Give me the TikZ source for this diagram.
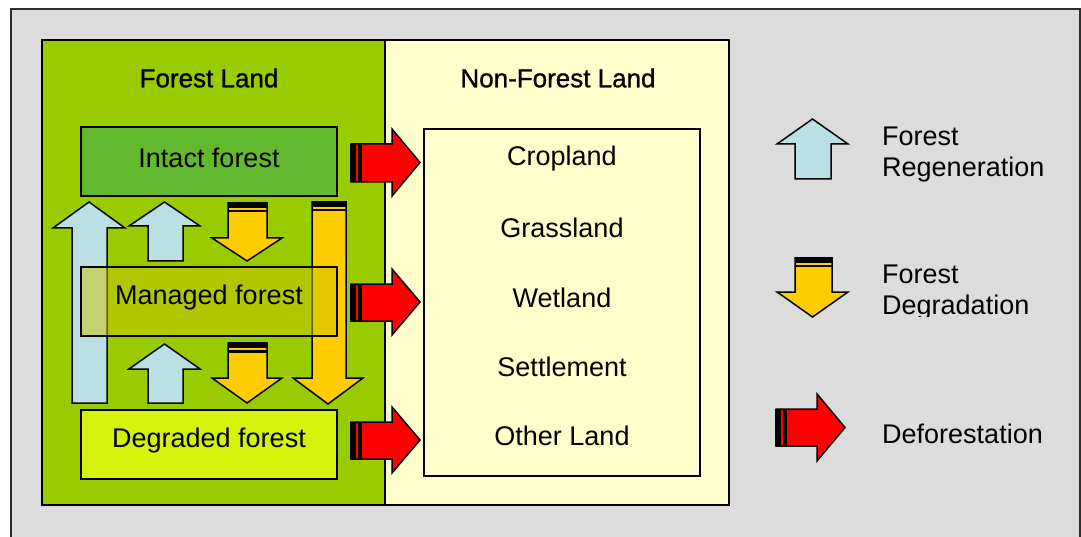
\documentclass[tikz,border=0pt]{standalone}
\usepackage{fontspec}
\setmainfont{Liberation Sans}
\newfontfamily\medfont[FakeBold=1]{Liberation Sans}
\definecolor{bggray}{RGB}{220,220,220}
\definecolor{framegray}{RGB}{45,45,45}
\definecolor{forestgreen}{RGB}{153,204,0}
\definecolor{nonforest}{RGB}{255,255,204}
\definecolor{intact}{RGB}{99,185,46}
\definecolor{managed}{RGB}{205,196,0}
\definecolor{degraded}{RGB}{212,242,12}
\definecolor{regenblue}{RGB}{187,224,228}
\definecolor{degyellow}{RGB}{255,204,0}
\definecolor{defred}{RGB}{255,0,0}
\tikzset{
  region/.style={draw=black, line width=1.6pt},
  landbox/.style={draw=black, line width=1.6pt, minimum width=256pt, minimum height=69pt, inner sep=0pt},
  lbl/.style={font=\fontsize{27}{31}\selectfont, inner sep=0pt},
  title/.style={font=\medfont\fontsize{26}{30}\selectfont, inner sep=0pt},
  regen/.style={draw=black, line width=1.5pt, fill=regenblue, line join=miter},
  degr/.style={draw=black, line width=1.5pt, fill=degyellow, line join=miter},
  defo/.style={draw=black, line width=1.5pt, fill=defred, line join=miter},
}
% up arrow: shaft x1 x2, head hx1 hx2, tip y, head-base y, bottom y
\newcommand\UpArr[7]{%
  \draw[regen] (#1,#7) -- (#1,#6) -- (#3,#6) -- ({(#3+#4)/2},#5) -- (#4,#6) -- (#2,#6) -- (#2,#7) -- cycle;}
% down arrow: shaft x1 x2, head hx1 hx2, top y, head-base y, tip y
\newcommand\DnArr[7]{%
  \draw[degr] (#1,#5) -- (#1,#6) -- (#3,#6) -- ({(#3+#4)/2},#7) -- (#4,#6) -- (#2,#6) -- (#2,#5) -- cycle;
  \fill[black] (#1,#5) rectangle (#2,{#5+5});
  \fill[black] (#1,{#5+7}) rectangle (#2,{#5+9.5});
  \draw[black, line width=1.5pt] (#1,#5) -- (#2,#5);}
% right arrow: left x, shaft y1 y2, head-base x, head y1 y2, tip x
\newcommand\RtArr[7]{%
  \draw[defo] (#1,#2) -- (#4,#2) -- (#4,#5) -- (#7,{(#5+#6)/2}) -- (#4,#6) -- (#4,#3) -- (#1,#3) -- cycle;
  \fill[black] (#1,#2) rectangle ({#1+4.5},#3);
  \fill[black] ({#1+6.5},#2) rectangle ({#1+11},#3);
  \draw[black, line width=1.5pt] (#1,#2) -- (#1,#3);}
\begin{document}
\begin{tikzpicture}[x=1pt,y=-1pt]
\useasboundingbox (0,0) rectangle (1081,537);
% background frame
\fill[white] (0,0) rectangle (1081,537);
\draw[draw=framegray, fill=bggray, line width=1.8pt] (11,9) rectangle (1080,560);
% regions
\draw[region, fill=forestgreen] (42,40) rectangle (385,505);
\draw[region, fill=nonforest] (385,40) rectangle (729,505);
\node[title] (tforest) at (209,78) {Forest Land};
\node[title] (tnon) at (558,78) {Non-Forest Land};
% forest boxes
\node[landbox, fill=intact] (intact) at (209,161.5) {};
\node[lbl] at (209,158) {Intact forest};
\node[landbox, fill=degraded] (degraded) at (209,444.5) {};
\node[lbl] at (209,441) {Degraded forest};
% regeneration arrows
\UpArr{72}{107}{53}{125}{202}{228}{403}
\UpArr{148}{183}{129}{200}{202}{226}{261}
\UpArr{148}{183}{129}{200}{344}{369}{403}
% degradation arrows
\DnArr{228}{267}{212}{282}{203}{238}{261}
\DnArr{228}{267}{212}{282}{343}{378}{403}
\DnArr{312}{346}{293}{363}{202}{378}{404}
% managed forest (semi-transparent on top)
\node[landbox, fill=managed, fill opacity=0.5] (managed) at (209,301.5) {};
\node[lbl] at (209,298) {Managed forest};
% non-forest box
\draw[region] (424,129) rectangle (700,476);
\node[lbl] (crop) at (562,159) {Cropland};
\node[lbl] (grass) at (562,228) {Grassland};
\node[lbl] (wet) at (562,298) {Wetland};
\node[lbl] (settle) at (562,367) {Settlement};
\node[lbl] (other) at (562,436) {Other Land};
% deforestation arrows
\RtArr{351}{144}{182}{392}{129}{196}{420}
\RtArr{351}{284}{321}{392}{269}{335}{420}
\RtArr{351}{422}{459}{392}{407}{473}{420}
% legend
\UpArr{795}{831}{777}{848}{119}{144}{179}
\DnArr{795}{832}{777}{848}{258}{292}{317}
\RtArr{776}{409}{446}{817}{394}{461}{845}
\node[lbl, anchor=west, align=left] (lregen) at (882,155) {Forest\\Regeneration};
\begin{scope}
\clip (860,250) rectangle (1070,316);
\node[lbl, anchor=west, align=left] (ldegr) at (882,293) {Forest\\Degradation};
\end{scope}
\node[lbl, anchor=west] (ldefo) at (882,434) {Deforestation};
\end{tikzpicture}
\end{document}
